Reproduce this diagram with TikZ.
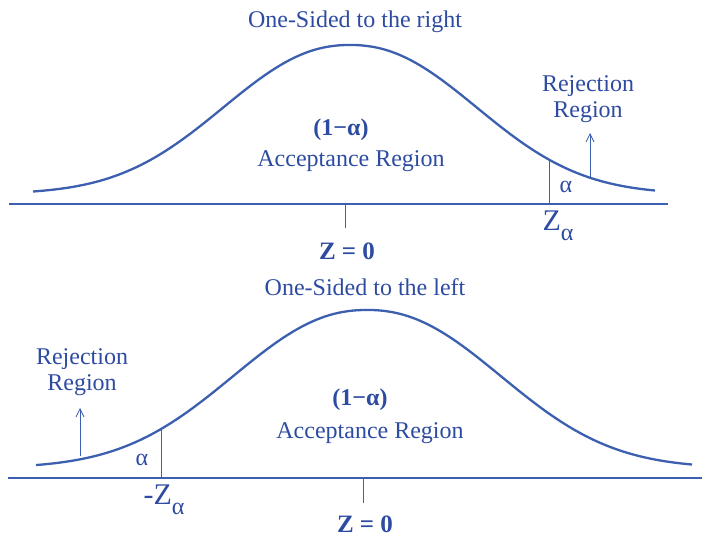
\documentclass[tikz,border=0pt]{standalone}
\usepackage{fontspec}
\setmainfont{Liberation Serif}
\usetikzlibrary{positioning, arrows.meta}
\definecolor{normblue}{RGB}{60,95,175}
\definecolor{txtblue}{RGB}{45,75,160}
\newcommand{\zalpha}{Z\raisebox{-0.35em}{\fontsize{24}{24}\selectfont α}}

\begin{document}
\begin{tikzpicture}[
    x=1pt, y=-1pt,
    declare function={gr(\t)=194-149*exp(-0.5*pow(abs((\t-350)/122)+0.0001,2.2));
                      gl(\t)=468-158*exp(-0.5*pow(abs((\t-367)/129)+0.0001,2.2));},
    curve/.style={normblue, line width=2.3pt},
    axis/.style={normblue, line width=1.1pt},
    tickline/.style={normblue, line width=1pt},
    txt/.style={txtblue, font=\fontsize{24}{26}\selectfont, inner sep=0pt},
    boldtxt/.style={txt, font=\fontsize{24}{26}\selectfont\bfseries},
    bigtxt/.style={txt, font=\fontsize{30}{30}\selectfont},
    rejarrow/.style={normblue, line width=0.8pt, -{Straight Barb[length=8pt, width=8pt]}}
]
\useasboundingbox (0,0) rectangle (707,537);

% One-sided to the right
\node[txt] (rtitle) at (355,22) {One-Sided to the right};
\coordinate (raxl) at (9,204);
\coordinate (raxr) at (668,204);
\draw[axis] (raxl) -- (raxr);
\draw[curve] plot[domain=33:655, samples=160] (\x,{gr(\x)});

\coordinate (rmid) at (345,204);
\coordinate (rmidb) at (345,228);
\draw[tickline] (rmid) -- (rmidb);
\node[boldtxt, font=\fontsize{25}{27}\selectfont\bfseries] (rzero) at (347,251) {Z = 0};

\coordinate (rcut) at (549,204);
\coordinate (rcutc) at (549,{gr(549)});
\draw[tickline] (rcut) -- (rcutc);
\node[txt] (ralpha) at (566,187) {α};
\node[bigtxt] (rz) at (558,226) {\zalpha};

\node[txt, align=center] (rrej) at (588,99) {Rejection\\Region};
\coordinate (rfoot) at (590,{gr(590)});
\coordinate (rtip) at (590,133);
\draw[rejarrow] (rfoot) -- (rtip);

\node[boldtxt] (racc1) at (341,130) {(1−α)};
\node[txt] (racc2) at (351,161) {Acceptance Region};

% One-sided to the left
\node[txt] (ltitle) at (365,287) {One-Sided to the left};
\coordinate (laxl) at (8,478);
\coordinate (laxr) at (702,478);
\draw[axis] (laxl) -- (laxr);
\draw[curve] plot[domain=36:692, samples=160] (\x,{gl(\x)});

\coordinate (lmid) at (363,478);
\coordinate (lmidb) at (363,503);
\draw[tickline] (lmid) -- (lmidb);
\node[boldtxt, font=\fontsize{25}{27}\selectfont\bfseries] (lzero) at (365,524) {Z = 0};

\coordinate (lcut) at (161,478);
\coordinate (lcutc) at (161,{gl(161)});
\draw[tickline] (lcut) -- (lcutc);
\node[txt] (lalpha) at (142,460) {α};
\node[bigtxt] (lz) at (164,500) {-\zalpha};

\node[txt, align=center] (lrej) at (82,372) {Rejection\\Region};
\coordinate (lfoot) at (80,{gl(80)-3});
\coordinate (ltip) at (80,408);
\draw[rejarrow] (lfoot) -- (ltip);

\node[boldtxt] (lacc1) at (360,400) {(1−α)};
\node[txt] (lacc2) at (370,433) {Acceptance Region};

\end{tikzpicture}
\end{document}
